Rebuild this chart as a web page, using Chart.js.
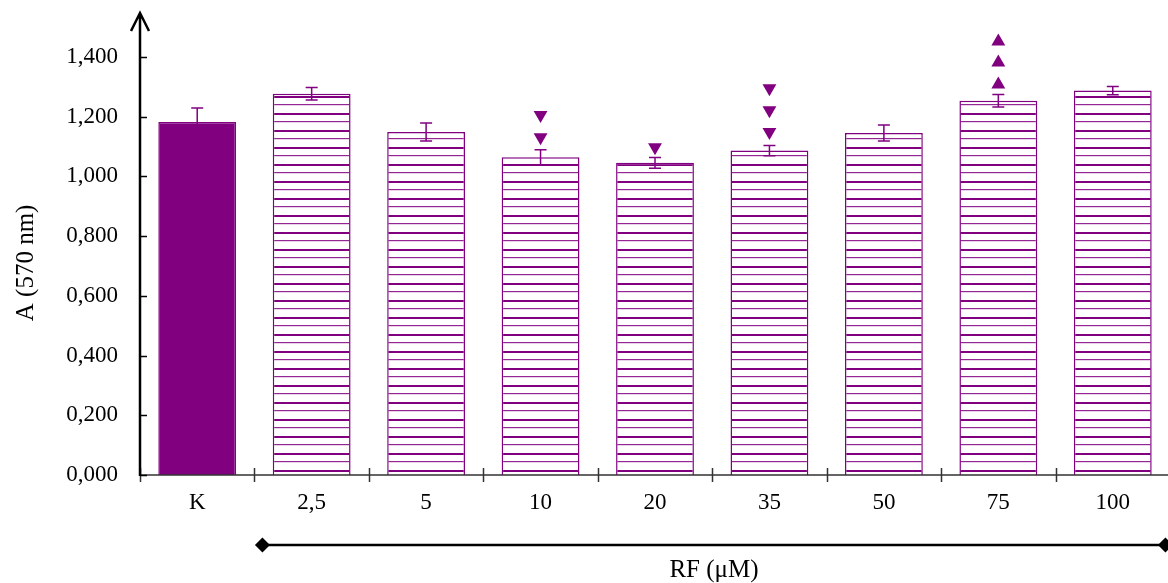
<!DOCTYPE html>
<html>
<head>
<meta charset="utf-8">
<script src="https://cdn.jsdelivr.net/npm/chart.js@4/dist/chart.umd.min.js"></script>
<style>
  body { margin: 0; background: #fff; overflow: hidden; }
  #wrap { width: 1178px; height: 583px; position: relative; }
</style>
</head>
<body>
<div id="wrap"><canvas id="absChart"></canvas></div>
<script>
// categories and values
const categories = ['K', '2,5', '5', '10', '20', '35', '50', '75', '100'];
const absorbance = [1.182, 1.276, 1.148, 1.064, 1.045, 1.086, 1.145, 1.253, 1.287];
const errors = [0.047, 0.021, 0.030, 0.025, 0.018, 0.017, 0.027, 0.021, 0.014];
const yTicks = [0, 0.2, 0.4, 0.6, 0.8, 1.0, 1.2, 1.4];

// significance markers (down = decrease, up = increase)
const sigDownCat = ['10', '10', '20', '35', '35', '35'];
const sigDownVal = [1.131, 1.205, 1.097, 1.148, 1.221, 1.295];
const sigUpCat = ['75', '75', '75'];
const sigUpVal = [1.307, 1.381, 1.451];

const purple = '#800080';
const font = 'Liberation Serif, Times New Roman, serif';

// horizontal hatch pattern
const pc = document.createElement('canvas');
pc.width = 8; pc.height = 17;
const pctx = pc.getContext('2d');
pctx.fillStyle = '#fff';
pctx.fillRect(0, 0, 8, 17);
pctx.fillStyle = purple;
pctx.fillRect(0, 11, 8, 2);
pctx.fillStyle = 'rgba(128,0,128,0.85)';
pctx.fillRect(0, 2, 8, 1.2);
const hatch = pctx.createPattern(pc, 'repeat');

const fills = categories.map((c, i) => i === 0 ? purple : hatch);

const errorBars = {
    id: 'errorBars',
    afterDatasetsDraw(chart) {
        const ctx = chart.ctx;
        const y = chart.scales.y;
        const meta = chart.getDatasetMeta(0);
        ctx.save();
        ctx.strokeStyle = purple;
        ctx.lineWidth = 1.5;
        meta.data.forEach((bar, i) => {
            const top = y.getPixelForValue(absorbance[i] + errors[i]);
            const bot = y.getPixelForValue(absorbance[i] - errors[i]);
            ctx.beginPath();
            ctx.moveTo(bar.x, top); ctx.lineTo(bar.x, bot);
            ctx.moveTo(bar.x - 6, top); ctx.lineTo(bar.x + 6, top);
            ctx.moveTo(bar.x - 6, bot); ctx.lineTo(bar.x + 6, bot);
            ctx.stroke();
        });
        ctx.restore();
    }
};

const axesDecor = {
    id: 'axesDecor',
    afterDraw(chart) {
        const ctx = chart.ctx;
        const x = chart.scales.x;
        const y = chart.scales.y;
        const area = chart.chartArea;
        const y0 = y.getPixelForValue(0);
        const ax = area.left;
        ctx.save();

        // x axis line and ticks between categories
        ctx.strokeStyle = '#333';
        ctx.lineWidth = 1.5;
        ctx.beginPath();
        ctx.moveTo(ax, y0); ctx.lineTo(area.right, y0);
        const step = x.getPixelForValue(1) - x.getPixelForValue(0);
        for (let i = 0; i <= categories.length; i++) {
            const px = Math.round(x.getPixelForValue(0) - step / 2 + i * step) + 0.5;
            ctx.moveTo(px, y0 - 7); ctx.lineTo(px, y0 + 7);
        }
        ctx.stroke();

        // y axis with arrow
        ctx.strokeStyle = '#000';
        ctx.lineWidth = 2.5;
        ctx.beginPath();
        ctx.moveTo(ax, y0 + 1); ctx.lineTo(ax, area.top + 1);
        ctx.moveTo(ax - 9, area.top + 19); ctx.lineTo(ax, area.top + 1); ctx.lineTo(ax + 9, area.top + 19);
        ctx.stroke();
        ctx.lineWidth = 1.5;
        ctx.beginPath();
        yTicks.forEach(v => {
            const py = Math.round(y.getPixelForValue(v)) + 0.5;
            ctx.moveTo(ax, py); ctx.lineTo(ax + 7, py);
        });
        ctx.stroke();

        // bracket under the treated groups
        const bx1 = x.getPixelForValue(1) - 0.43 * step;
        const bx2 = x.getPixelForValue(8) + 0.46 * step;
        const by = 545;
        ctx.strokeStyle = '#000';
        ctx.lineWidth = 2.5;
        ctx.beginPath();
        ctx.moveTo(bx1, by); ctx.lineTo(bx2, by);
        ctx.stroke();
        ctx.fillStyle = '#000';
        [bx1, bx2].forEach(px => {
            ctx.beginPath();
            ctx.moveTo(px - 7.5, by); ctx.lineTo(px, by - 7.5);
            ctx.lineTo(px + 7.5, by); ctx.lineTo(px, by + 7.5);
            ctx.closePath();
            ctx.fill();
        });

        // axis titles
        ctx.font = '25px ' + font;
        ctx.textAlign = 'center';
        ctx.textBaseline = 'middle';
        ctx.fillText('RF (\u03bcM)', (bx1 + bx2) / 2, 570);
        ctx.translate(26, (y.getPixelForValue(0) + y.getPixelForValue(1.4)) / 2 - 3);
        ctx.rotate(-Math.PI / 2);
        ctx.fillText('A (570 nm)', 0, 0);
        ctx.restore();
    }
};

new Chart(document.getElementById('absChart'), {
    type: 'bar',
    data: {
        labels: categories,
        datasets: [{
            data: absorbance,
            backgroundColor: fills,
            borderColor: purple,
            borderWidth: 1.5,
            categoryPercentage: 1,
            barPercentage: 0.68,
            order: 2
        }, {
            type: 'line',
            data: sigDownCat.map((c, i) => ({ x: c, y: sigDownVal[i] })),
            showLine: false,
            pointStyle: 'triangle',
            rotation: 180,
            radius: 8,
            backgroundColor: purple,
            borderColor: purple,
            borderWidth: 0,
            order: 1
        }, {
            type: 'line',
            data: sigUpCat.map((c, i) => ({ x: c, y: sigUpVal[i] })),
            showLine: false,
            pointStyle: 'triangle',
            radius: 8,
            backgroundColor: purple,
            borderColor: purple,
            borderWidth: 0,
            order: 1
        }]
    },
    options: {
        responsive: true,
        maintainAspectRatio: false,
        animation: false,
        layout: { padding: { top: 12, right: 0, left: 0, bottom: 0 } },
        plugins: {
            legend: { display: false },
            tooltip: { enabled: false }
        },
        scales: {
            x: {
                offset: true,
                grid: { display: false, drawTicks: false },
                border: { display: false },
                ticks: {
                    color: '#000',
                    padding: 14,
                    font: { family: font, size: 23 }
                },
                afterFit(scale) {
                    scale.height = 108;
                    scale.paddingLeft = 0;
                    scale.paddingRight = 0;
                }
            },
            y: {
                min: 0,
                max: 1.55,
                grid: { display: false, drawTicks: false },
                border: { display: false },
                afterBuildTicks(scale) {
                    scale.ticks = yTicks.map(v => ({ value: v }));
                },
                ticks: {
                    color: '#000',
                    padding: 22,
                    font: { family: font, size: 23 },
                    callback: v => v.toFixed(3).replace('.', ',')
                },
                afterFit(scale) {
                    scale.width = 140;
                    scale.paddingTop = 0;
                    scale.paddingBottom = 0;
                }
            }
        }
    },
    plugins: [errorBars, axesDecor]
});
</script>
</body>
</html>
